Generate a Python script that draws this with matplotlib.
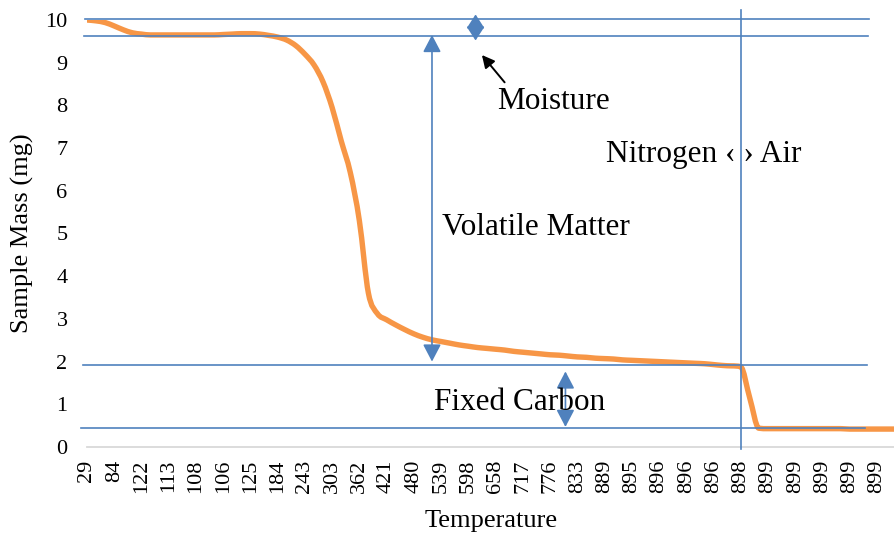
import matplotlib
matplotlib.use("Agg")
import matplotlib.pyplot as plt
from matplotlib.path import Path
from matplotlib.patches import PathPatch

plt.rcParams['font.family'] = ['Liberation Serif', 'DejaVu Serif']

# ---- data -------------------------------------------------------------
# tick labels (temperature), one every 3rd sample
temp_labels = ["29", "84", "122", "113", "108", "106", "125", "184", "243", "303",
               "362", "421", "480", "539", "598", "658", "717", "776", "833", "889",
               "895", "896", "896", "896", "898", "899", "899", "899", "899", "899"]

# sample mass (mg) for every sample (90 samples)
mass = [10.00, 9.98, 9.94, 9.86, 9.77, 9.70, 9.67, 9.65, 9.65, 9.65,
        9.65, 9.65, 9.65, 9.65, 9.65, 9.66, 9.67, 9.68, 9.68, 9.67,
        9.64, 9.60, 9.53, 9.40, 9.20, 8.95, 8.55, 7.95, 7.17, 6.43,
        5.30, 3.60, 3.12, 2.98, 2.86, 2.75, 2.65, 2.57, 2.51, 2.47,
        2.43, 2.39, 2.36, 2.33, 2.31, 2.29, 2.27, 2.24, 2.22, 2.20,
        2.18, 2.16, 2.15, 2.13, 2.11, 2.10, 2.08, 2.07, 2.06, 2.04,
        2.03, 2.02, 2.01, 2.00, 1.99, 1.98, 1.97, 1.96, 1.95, 1.93,
        1.91, 1.90, 1.88, 1.15, 0.44, 0.43, 0.43, 0.43, 0.43, 0.43,
        0.43, 0.43, 0.43, 0.43, 0.42, 0.42, 0.42, 0.42, 0.42, 0.42]
sample = list(range(len(mass)))
label_step = 3

# ---- figure -----------------------------------------------------------
W, H = 895, 534
fig = plt.figure(figsize=(W / 100, H / 100), dpi=100)
ax = fig.add_axes([87 / W, 87 / H, (W - 87) / W, (447 - 20) / H])

orange = '#F79646'
blue = '#4F81BD'

# smoothed line: monotone cubic Bezier segments through the data points
n = len(mass)
d = [(mass[k + 1] - mass[k]) / (sample[k + 1] - sample[k]) for k in range(n - 1)]
m = [0.0] * n
m[0], m[-1] = d[0], d[-1]
for k in range(1, n - 1):
    if d[k - 1] * d[k] <= 0:
        m[k] = 0.0
    else:
        m[k] = (d[k - 1] + d[k]) / 2
for k in range(n - 1):
    if d[k] == 0:
        m[k] = m[k + 1] = 0.0
        continue
    a, b = m[k] / d[k], m[k + 1] / d[k]
    s = a * a + b * b
    if s > 9:
        t = 3 / s ** 0.5
        m[k], m[k + 1] = t * a * d[k], t * b * d[k]
verts = [(sample[0], mass[0])]
codes = [Path.MOVETO]
for k in range(n - 1):
    h = sample[k + 1] - sample[k]
    verts += [(sample[k] + h / 3, mass[k] + m[k] * h / 3),
              (sample[k + 1] - h / 3, mass[k + 1] - m[k + 1] * h / 3),
              (sample[k + 1], mass[k + 1])]
    codes += [Path.CURVE4] * 3
ax.add_patch(PathPatch(Path(verts, codes), facecolor='none', edgecolor=orange,
                       lw=3.9, joinstyle='round', capstyle='butt', zorder=3))

ax.set_xlim(0, len(mass) - 1)
ax.set_ylim(0, 10)
ax.set_yticks(range(0, 11))
ax.set_xticks(sample[::label_step])
ax.set_xticklabels(temp_labels, rotation=90)
ax.tick_params(axis='both', length=0, labelsize=16)
ax.tick_params(axis='y', pad=14)
ax.tick_params(axis='x', pad=9)
for s in ['top', 'right', 'left']:
    ax.spines[s].set_visible(False)
ax.spines['bottom'].set_color('#d9d9d9')
ax.spines['bottom'].set_linewidth(1.3)

ax.set_xlabel('Temperature', fontsize=19, labelpad=12)
ax.set_ylabel('Sample Mass (mg)', fontsize=19, labelpad=8)

# ---- annotation shapes -----------------------------------------------
lw = 1.2
hlines = [(10.02, -0.2, 86.1), (9.62, -0.35, 86.0), (1.925, -0.45, 85.9), (0.446, -0.65, 85.7)]
for yv, x0, x1 in hlines:
    ax.plot([x0, x1], [yv, yv], color=blue, lw=lw, zorder=4, clip_on=False)
ax.plot([72.0, 72.0], [10.23, -0.05], color=blue, lw=lw, zorder=4, clip_on=False)

def dbl(x, y0, y1, hw, hl):
    ax.annotate('', xy=(x, y1), xytext=(x, y0),
                arrowprops=dict(arrowstyle=f'<|-|>,head_width={hw},head_length={hl}',
                                color=blue, lw=lw, shrinkA=0, shrinkB=0),
                zorder=5, annotation_clip=False)

dbl(38.0, 2.0, 9.65, 0.55, 1.05)
dbl(42.8, 9.52, 10.13, 0.55, 0.85)
dbl(52.7, 0.47, 1.77, 0.55, 1.05)

ax.annotate('', xy=(43.5, 9.18), xytext=(46.0, 8.54),
            arrowprops=dict(arrowstyle='-|>,head_width=0.38,head_length=0.75',
                            color='black', lw=1.4, shrinkA=0, shrinkB=0),
            zorder=5)

tk = dict(fontsize=22.5, color='black', va='baseline', ha='left', zorder=6)
def px(xp, yp):
    return ((xp - 87) / 9.08, (447 - yp) / 42.6)

ax.text(*px(497, 110), 'Moisture', **tk)
ax.text(*px(606, 163), 'Nitrogen \u2039 \u203a Air', **tk)
ax.text(*px(442, 235), 'Volatile Matter', **tk)
ax.text(*px(434, 410), 'Fixed Carbon', **tk)

fig.savefig('out.png', dpi=100)
